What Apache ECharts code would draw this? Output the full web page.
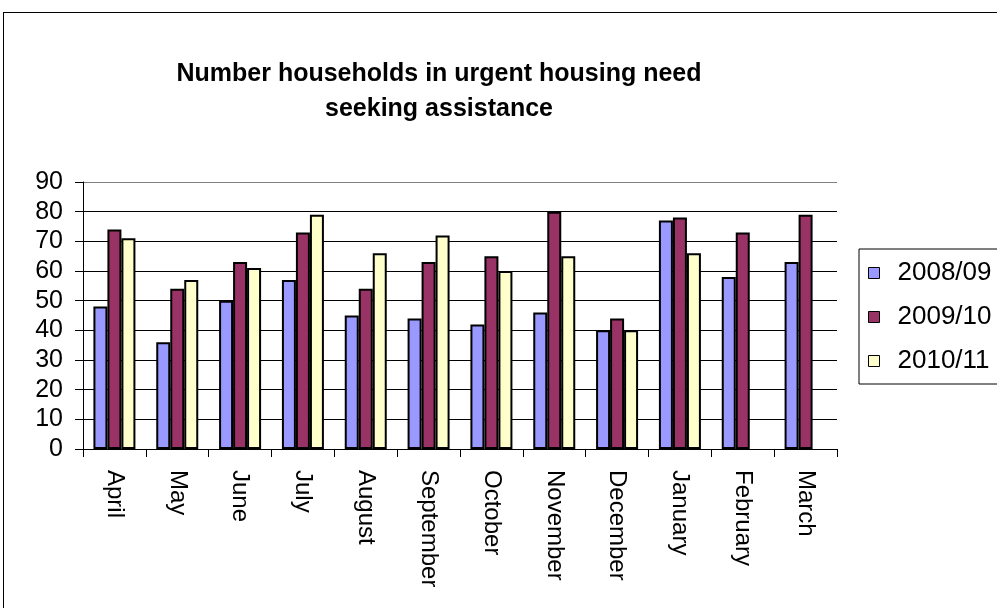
<!DOCTYPE html>
<html><head><meta charset="utf-8">
<script src="https://cdn.jsdelivr.net/npm/echarts@6/dist/echarts.min.js"></script>
<style>html,body{margin:0;padding:0;background:#fff}#c{width:997px;height:608px}
#frame{position:absolute;left:3px;top:12px;width:1000px;height:620px;border:1px solid #000;box-sizing:border-box;pointer-events:none}</style>
</head><body><div id="c"></div><div id="frame"></div>
<script>
const months = ["April","May","June","July","August","September","October","November","December","January","February","March"];
const seriesNames = ["2008/09","2009/10","2010/11"];
const s2008 = [48,36,50,57,45,44,42,46,40,77,58,63];
const s2009 = [74,54,63,73,54,63,65,80,44,78,73,79];
const s2010 = [71,57,61,79,66,72,60,65,40,66,null,null];
const colors = ["#9999FF","#993366","#FFFFCC"];
const yTicks = {min:0,max:90,interval:10};

const chart = echarts.init(document.getElementById('c'));
const mk = (name, data, color) => ({
  name, type:'bar', data, barWidth:14, barGap:'0%',
  itemStyle:{color, borderColor:'#000', borderWidth:2},
  animation:false
});
chart.setOption({
  animation:false,
  title:{text:'Number households in urgent housing need\nseeking assistance', left:434, textAlign:'center', top:52,
    textStyle:{fontFamily:'Liberation Sans, Arial', fontWeight:'bold', fontSize:25, color:'#000', lineHeight:35}},
  legend:{orient:'vertical', left:859, top:249, padding:[11,40,10,9], itemGap:18, itemWidth:11, itemHeight:11,
    borderColor:'#000', borderWidth:1, backgroundColor:'#fff',
    textStyle:{fontFamily:'Liberation Sans, Arial', fontSize:26, color:'#000', padding:[0,0,0,13]},
    data:seriesNames.map(n=>({name:n, icon:'rect', itemStyle:{borderColor:'#000',borderWidth:1}}))},
  grid:{left:83, right:160, top:182, bottom:159},
  xAxis:{type:'category', data:months, boundaryGap:true,
    axisLine:{lineStyle:{color:'#000',width:1}},
    axisTick:{show:true, length:8, alignWithLabel:false, lineStyle:{color:'#000'}},
    axisLabel:{rotate:-90, color:'#000', fontFamily:'Liberation Sans, Arial', fontSize:24, margin:21, interval:0}},
  yAxis:{type:'value', min:yTicks.min, max:yTicks.max, interval:yTicks.interval,
    axisLine:{show:true, lineStyle:{color:'#000'}},
    axisTick:{show:true, length:8, lineStyle:{color:'#000'}},
    axisLabel:{color:'#000', fontFamily:'Liberation Sans, Arial', fontSize:25, margin:20},
    splitLine:{lineStyle:{color:['#000','#000','#000','#000','#000','#000','#000','#000','#000','#808080'], width:1}}},
  series:[mk(seriesNames[0], s2008, colors[0]), mk(seriesNames[1], s2009, colors[1]), mk(seriesNames[2], s2010, colors[2])]
});
</script></body></html>
